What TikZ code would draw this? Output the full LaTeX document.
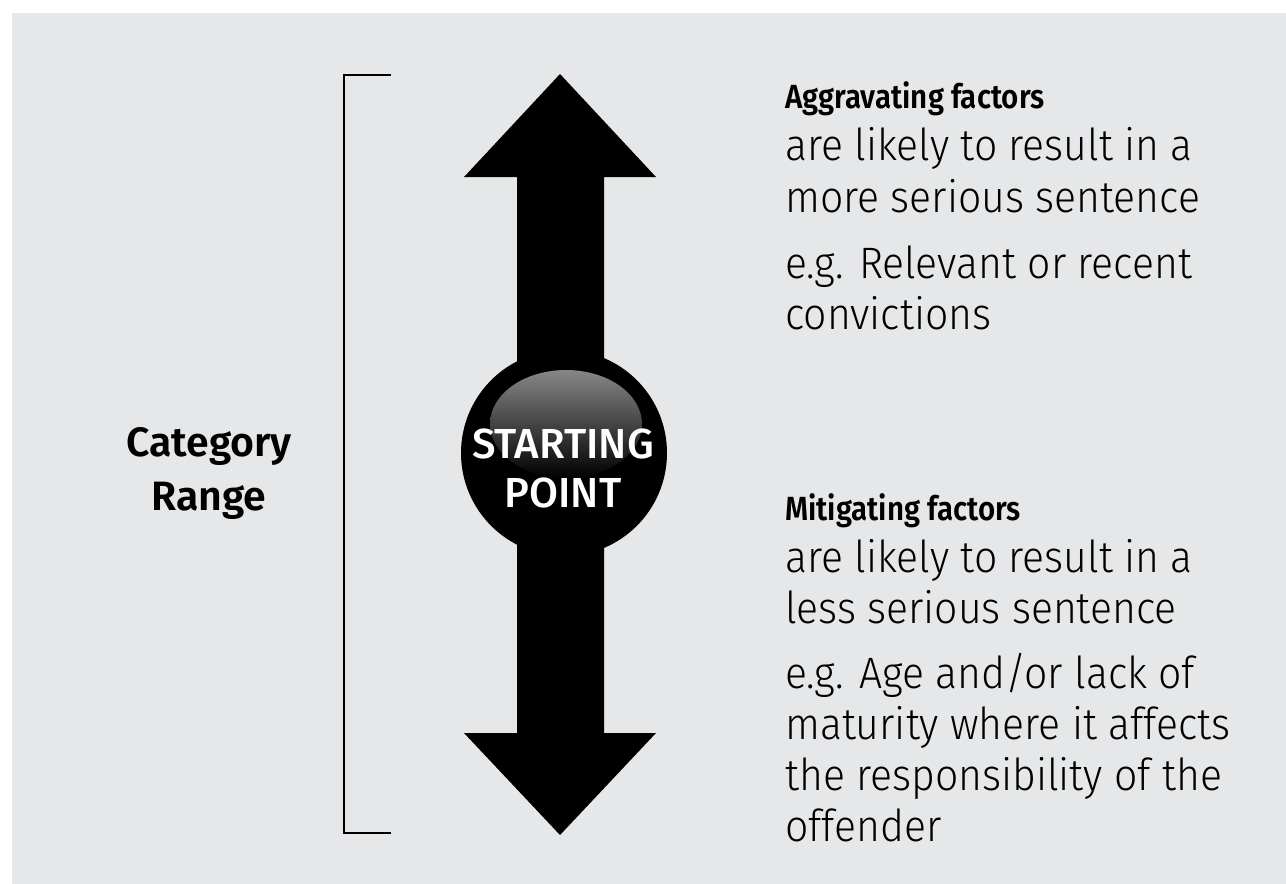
\documentclass[tikz,border=0pt]{standalone}
\usepackage{fontspec}
\setmainfont{Fira Sans}
\newfontfamily\regfont[FakeStretch=0.93]{Fira Sans Light}
\newfontfamily\headfont[FakeStretch=0.88]{Fira Sans SemiBold}
\newfontfamily\catfont{Fira Sans SemiBold}
\newfontfamily\spfont{Fira Sans Medium}
\definecolor{bggray}{HTML}{E6E7E8}
\begin{document}
\begin{tikzpicture}[x=1pt,y=-1pt,
  boldtxt/.style={anchor=base west,inner sep=0pt,font=\headfont\fontsize{33.5}{40}\selectfont,text=black},
  regtxt/.style={anchor=base west,inner sep=0pt,font=\regfont\fontsize{44}{50}\selectfont,text=black},
  cattxt/.style={anchor=base,inner sep=0pt,font=\catfont\fontsize{41}{48}\selectfont,text=black},
  starttxt/.style={anchor=base,inner sep=0pt,font=\spfont\fontsize{42}{48}\selectfont,text=white},
  bracket/.style={line width=2.6pt,black}]
\useasboundingbox (0,0) rectangle (1286,884);
\fill[white] (0,0) rectangle (1286,884);
\fill[bggray] (12,13) rectangle (1286,884);
% bracket
\coordinate (bt) at (391,75);
\coordinate (btl) at (344,75);
\coordinate (bbl) at (344,833);
\coordinate (bb) at (391,833);
\draw[bracket] (bt) -- (btl) -- (bbl) -- (bb);
% double arrow
\fill[black] (560,74) -- (656,177) -- (604,177) -- (604,733) -- (656,733) -- (560,835)
  -- (464,733) -- (517,733) -- (517,177) -- (464,177) -- cycle;
% circle
\node[circle,fill=black,minimum size=206pt,inner sep=0pt] (sp) at (564,453) {};
\begin{scope}
\clip (564,453) circle (100);
\shade[top color=black!47,middle color=black,bottom color=black] (566,424) ellipse (76 and 54);
\end{scope}
\node[starttxt] (st1) at (563,458) {STARTING};
\node[starttxt] (st2) at (563,507) {POINT};
% category range
\node[cattxt] (c1) at (209,456) {Category};
\node[cattxt] (c2) at (209,510) {Range};
% aggravating
\node[boldtxt] (a1) at (785,108) {Aggravating factors};
\node[regtxt] (a2) at (785,160) {are likely to result in a};
\node[regtxt] (a3) at (785,212) {more serious sentence};
\node[regtxt] (a4) at (785,278) {e.g. Relevant or recent};
\node[regtxt] (a5) at (785,329) {convictions};
% mitigating
\node[boldtxt] (m1) at (785,520) {Mitigating factors};
\node[regtxt] (m2) at (785,572) {are likely to result in a};
\node[regtxt] (m3) at (785,623) {less serious sentence};
\node[regtxt] (m4) at (785,688) {e.g. Age and/or lack of};
\node[regtxt] (m5) at (785,739) {maturity where it affects};
\node[regtxt] (m6) at (785,790) {the responsibility of the};
\node[regtxt] (m7) at (785,841) {offender};
\end{tikzpicture}
\end{document}
